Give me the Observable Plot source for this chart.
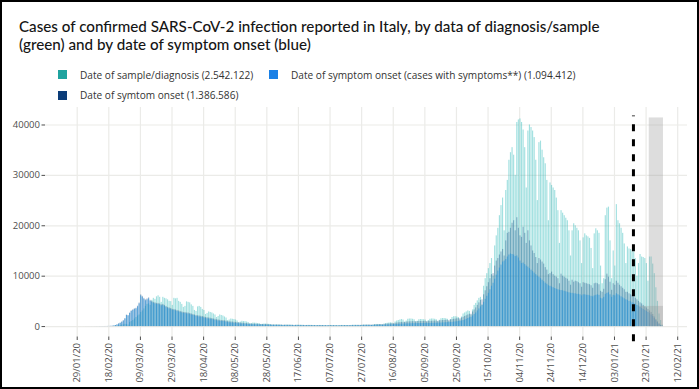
<!DOCTYPE html>
<html>
<head>
<meta charset="utf-8">
<script src="https://cdn.jsdelivr.net/npm/d3@7"></script>
<script src="https://cdn.jsdelivr.net/npm/@observablehq/plot@0.6"></script>
<style>
  html, body { margin: 0; padding: 0; background: #fff; }
  body { width: 699px; height: 389px; position: relative; overflow: hidden; }
  #frame { position: absolute; left: 0; top: 0; width: 699px; height: 389px; box-sizing: border-box; border: 2px solid #000; pointer-events: none; z-index: 5; }
  #title { position: absolute; left: 19px; top: 17px; font-family: Lato, sans-serif; font-size: 15.2px; font-weight: 500; line-height: 18px; color: #151515; }
  .leg { position: absolute; font-family: "Open Sans", sans-serif; font-size: 10.1px; color: #333; white-space: nowrap; line-height: 12px; }
  .sw { position: absolute; width: 9.5px; height: 9px; }
  #chart { position: absolute; left: 0; top: 100px; }
</style>
</head>
<body>
<div id="frame"></div>
<div id="title"></div>
<div id="legend"></div>
<div id="chart"></div>
<script>
const titleLines = [
  "Cases of confirmed SARS-CoV-2 infection reported in Italy, by data of diagnosis/sample",
  "(green) and by date of symptom onset (blue)"
];
const legendLabels = [
  "Date of sample/diagnosis (2.542.122)",
  "Date of symptom onset (cases with symptoms**) (1.094.412)",
  "Date of symtom onset (1.386.586)"
];
const legendColors = ["#1fa39f", "#1a80e6", "#0b3c78"];

const xTickLabels = ["29/01/20","18/02/20","09/03/20","29/03/20","18/04/20","08/05/20","28/05/20","17/06/20","07/07/20","27/07/20","16/08/20","05/09/20","25/09/20","15/10/20","04/11/20","24/11/20","14/12/20","03/01/21","23/01/21","12/02/21"];
const yTickValues = [0, 10000, 20000, 30000, 40000];

const startDate = "2020-01-27"; // first day of the daily series (Monday)

// Daily cases by date of sample/diagnosis (one line = one week, Mon..Sun)
const diagnosis = [
0,0,0,0,2,0,0,
0,0,0,1,0,0,0,
0,0,0,0,0,0,0,
0,0,0,8,35,70,90,
150,220,300,350,450,420,300,
800,1000,1200,1500,1800,2100,2300,
2800,3100,3500,4000,4400,4500,4200,
5200,5600,5400,5900,6100,5800,4800,
5800,5600,5500,5300,5000,4950,4200,
5600,5500,5600,5000,4800,4400,3800,
4000,4900,4800,4700,4300,4000,3200,
3000,3900,4000,3800,3400,3200,2400,
2600,2900,2800,2700,2500,2300,1800,
2000,2300,2200,2100,1900,1700,1200,
1300,1500,1450,1400,1300,1100,800,
900,1050,1000,980,900,800,550,
600,700,680,650,600,550,400,
450,520,500,480,450,400,300,
300,350,340,330,310,290,220,
260,300,290,280,270,250,190,
240,270,260,250,240,220,170,
200,240,230,220,210,200,150,
190,220,210,200,200,180,140,
180,210,200,200,190,170,130,
190,220,220,210,200,190,140,
210,250,250,240,230,220,170,
250,300,300,290,280,260,200,
300,400,420,420,400,380,280,
500,600,650,700,750,700,500,
900,1100,1200,1300,1400,1300,900,
1100,1450,1500,1500,1450,1350,950,
1050,1350,1400,1400,1350,1300,900,
1200,1450,1500,1500,1450,1350,950,
1250,1550,1600,1600,1550,1450,1000,
1400,1800,1950,1950,1900,1800,1300,
1900,2500,2700,2900,3100,3000,2300,
3300,4200,4600,5100,5600,5800,4300,
8000,9500,10500,11500,12500,13500,10000,
16000,18000,19500,22000,24000,25500,19000,
27000,29000,33000,34500,35500,34000,30000,
40500,41000,41200,40500,39000,35500,27500,
38800,40000,39500,38800,37500,33000,25000,
36500,36800,35000,33500,32300,29000,21000,
28500,28000,27500,27000,25500,23000,16500,
23000,22500,22000,21500,21000,19000,14000,
19000,20400,20000,19500,19000,17000,12500,
17600,18400,18000,17800,17500,15500,11500,
18400,19400,19000,18500,12000,8500,9500,
22000,23500,23700,17000,9500,15000,12000,
24200,21000,20400,19500,18500,16400,12500,
15800,15400,15300,15000,14800,13500,10000,
12500,14300,13800,13700,13500,12500,9000,
13800,13800,12400,10500,7700,5000,2500,
1200,300
];

// Daily cases by date of symptom onset (all, 1.386.586)
const onsetAll = [
0,1,2,2,3,2,3,
4,5,4,6,6,5,7,
8,9,11,12,14,15,18,
22,31,47,73,125,210,345,
520,670,890,1140,1560,2280,2180,
2700,3110,3320,3530,3630,4050,4680,
6300,6000,5600,5300,5500,5700,5200,
5000,4800,4700,4600,4600,4500,4300,
4400,4200,4000,3800,3700,3600,3400,
3400,3300,3200,3100,3000,2900,2800,
2800,2700,2700,2600,2500,2400,2300,
2200,2150,2100,2050,2000,1900,1800,
1750,1700,1650,1600,1500,1450,1350,
1300,1250,1200,1200,1150,1100,1000,
950,920,900,850,820,800,720,
700,680,660,620,600,570,520,
500,490,480,470,460,450,420,
410,400,390,380,370,360,340,
330,320,320,310,310,300,280,
280,275,270,270,265,260,240,
250,245,245,240,240,235,220,
225,220,220,220,215,215,200,
210,210,205,200,200,195,185,
195,195,190,190,185,185,175,
190,195,200,200,205,210,200,
220,230,235,240,250,255,245,
270,280,290,300,310,320,300,
330,350,370,380,400,410,380,
430,470,500,530,560,590,560,
650,700,740,780,820,840,800,
880,920,940,960,970,980,930,
980,1000,1000,1010,1010,1020,960,
1020,1040,1050,1070,1090,1100,1040,
1130,1160,1190,1210,1240,1260,1200,
1320,1380,1430,1480,1530,1580,1550,
1700,1850,2000,2150,2300,2450,2450,
2900,3300,3700,4200,4700,5200,5300,
6300,7100,7900,8700,9500,10300,10500,
12000,13000,13500,14200,14800,15300,14000,
17000,18500,18700,19500,20500,21000,19000,
21600,19500,18000,17700,19700,18500,16500,
19000,17000,16000,15000,14500,13700,12500,
13500,13200,12800,12400,11700,11200,10300,
10500,10800,10300,10000,9800,9500,8500,
10400,10000,9800,9600,9400,9000,8200,
9200,8800,9000,8900,8700,8500,7800,
8700,8600,8500,8400,8300,8100,7600,
8500,8600,8500,8300,7000,6800,7400,
9300,10400,9800,8800,7200,8500,8200,
9000,8600,8200,7900,7600,7300,6800,
6800,6500,6300,6100,5900,5600,5300,
5000,4700,4500,4200,3900,3700,3400,
3100,2800,2400,1900,1400,950,550,
250,80
];

// Daily cases by date of symptom onset (cases with symptoms, 1.094.412)
const onsetSymptomatic = [
0,1,2,2,3,2,3,
4,5,4,6,6,5,7,
8,9,11,12,14,15,18,
22,30,45,70,120,200,330,
500,650,860,1100,1500,2200,2100,
2600,3000,3200,3400,3500,3900,4500,
6100,5800,5400,5100,5300,5500,5000,
4800,4600,4500,4400,4400,4300,4100,
4200,4000,3800,3600,3500,3400,3200,
3200,3100,3000,2900,2800,2700,2600,
2600,2500,2500,2400,2300,2200,2150,
2000,1950,1900,1850,1800,1700,1600,
1550,1500,1450,1400,1300,1250,1150,
1100,1050,1000,1000,950,900,800,
750,720,700,650,620,600,550,
520,500,480,450,430,410,380,
370,360,350,340,330,320,300,
290,280,270,260,250,240,230,
220,210,210,200,200,190,180,
180,175,170,170,165,160,155,
155,150,150,145,145,140,135,
135,130,130,130,125,125,120,
120,120,118,115,115,112,110,
110,110,108,108,105,105,102,
105,108,110,112,115,118,120,
125,130,135,140,145,150,155,
160,165,170,180,185,190,195,
200,210,220,230,240,250,260,
270,290,300,320,340,360,380,
400,420,440,460,480,500,520,
530,540,550,560,570,580,590,
590,600,600,610,610,620,620,
620,630,640,650,660,670,680,
690,700,720,740,760,780,800,
820,850,880,920,960,1000,1050,
1100,1200,1300,1450,1600,1750,1850,
2100,2400,2700,3100,3500,3900,4200,
4800,5400,6000,6600,7300,8000,8600,
9400,10200,11000,11600,12200,12800,13000,
13300,13800,14200,14400,14300,14200,13900,
14000,13600,13000,12500,12600,12300,12000,
11800,11500,11200,10900,10600,10300,10000,
9800,9500,9200,8900,8600,8400,8100,
8000,7850,7700,7550,7400,7300,7200,
7150,7100,7000,6900,6800,6700,6600,
6600,6500,6500,6400,6400,6300,6100,
6300,6300,6200,6200,6100,6000,5900,
6100,6200,6300,6200,5600,5500,5800,
6400,6600,6700,6300,5800,6200,6100,
6500,6300,6100,5900,5700,5500,5300,
5200,5000,4900,4700,4600,4400,4200,
4000,3800,3600,3400,3200,3000,2800,
2600,2300,2000,1600,1200,800,450,
200,60
];

// Shaded "incomplete data" zones and the dashed cut-off line
const greyZoneStarts = ["2021-01-25", "2021-01-18"];
const greyZoneEnds   = ["2021-02-03", "2021-02-03"];
const greyZoneTops   = [41400, 4000];
const cutoffDates = ["2021-01-15"];
const cutoffSpan = [-3000, 41800];

// ---------- build ----------
const parseTick = d3.utcParse("%d/%m/%y");
const xTicks = xTickLabels.map(parseTick);
const t0 = new Date(startDate + "T00:00Z");
const toRows = arr => arr.map((v, i) => {
  const d = d3.utcDay.offset(t0, i);
  return {x1: d, x2: d3.utcDay.offset(d, 1), v};
});
const diagRows = toRows(diagnosis);
const allRows = toRows(onsetAll);
const sympRows = toRows(onsetSymptomatic);
const greyZones = greyZoneStarts.map((s, i) => ({
  x1: new Date(s + "T00:00Z"), x2: new Date(greyZoneEnds[i] + "T00:00Z"), top: greyZoneTops[i]
}));
const cutoffs = cutoffDates.map(s => new Date(s + "T00:00Z"));

// title & legend
const title = document.getElementById("title");
title.innerHTML = titleLines.map(t => `<div>${t}</div>`).join("");
const legendPos = [[57.5, 70, 80], [268.5, 70, 291], [57.5, 90.5, 80]];
document.getElementById("legend").innerHTML = legendLabels.map((lab, i) => {
  const [sx, sy, tx] = legendPos[i];
  return `<div class="sw" style="left:${sx}px;top:${sy}px;background:${legendColors[i]}"></div>` +
         `<div class="leg" style="left:${tx}px;top:${sy - 1.5}px">${lab}</div>`;
}).join("");

const inset = 0.22;
const chart = Plot.plot({
  width: 699,
  height: 287,
  marginTop: 7,
  marginBottom: 50.5,
  marginLeft: 45,
  marginRight: 12,
  style: {fontFamily: "'Open Sans', sans-serif", fontSize: "9.5px", color: "#4d4d4d", background: "transparent", overflow: "visible"},
  x: {type: "utc", domain: [new Date("2020-01-08T22:30Z"), new Date("2021-02-18T05:00Z")], axis: null},
  y: {domain: [-2070, 43470], axis: null},
  marks: [
    Plot.gridX(xTicks, {stroke: "#ebebe8", strokeOpacity: 1, strokeWidth: 1.2}),
    Plot.gridY(yTickValues, {stroke: "#ebebe8", strokeOpacity: 1, strokeWidth: 1.2}),
    Plot.rect(diagRows, {x1: "x1", x2: "x2", y1: 0, y2: "v", fill: "#22b5b5", fillOpacity: 0.42, insetLeft: inset, insetRight: inset}),
    Plot.rect(allRows, {x1: "x1", x2: "x2", y1: 0, y2: "v", fill: "#0d3f7e", fillOpacity: 0.35, insetLeft: inset, insetRight: inset}),
    Plot.rect(sympRows, {x1: "x1", x2: "x2", y1: 0, y2: "v", fill: "#1e90dc", fillOpacity: 0.55, insetLeft: inset, insetRight: inset}),
    Plot.rect(greyZones, {x1: "x1", x2: "x2", y1: 0, y2: "top", fill: "#999999", fillOpacity: 0.33}),
    Plot.ruleX(cutoffs, {x: d => d, y1: cutoffSpan[0], y2: cutoffSpan[1], stroke: "#000", strokeWidth: 3, strokeDasharray: "7,8"}),
    Plot.axisY({ticks: yTickValues, tickFormat: d => String(d), tickSize: 3.5, tickPadding: 2, label: null, fontSize: 9.5}),
    Plot.axisX({ticks: xTicks, tickFormat: d3.utcFormat("%d/%m/%y"), tickRotate: -90, tickSize: 3.5, tickPadding: 2.5, label: null, fontSize: 9.5})
  ]
});
document.getElementById("chart").appendChild(chart);
</script>
</body>
</html>
